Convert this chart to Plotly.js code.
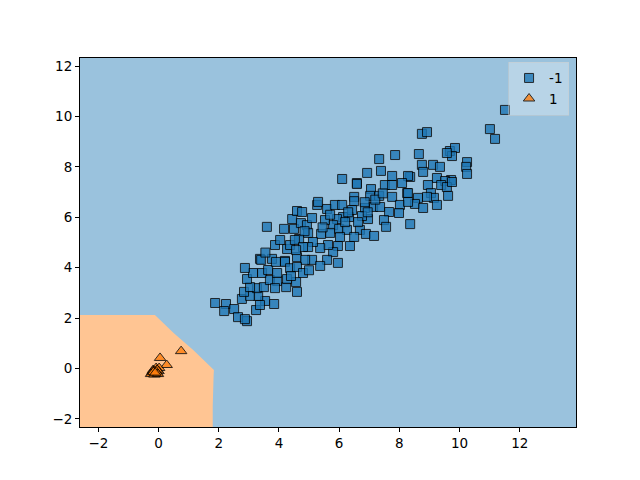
<!DOCTYPE html>
<html>
<head>
<meta charset="utf-8">
<script src="https://cdn.plot.ly/plotly-3.0.1.min.js"></script>
<style>html,body{margin:0;padding:0;background:#fff}#chart{width:640px;height:480px}</style>
</head>
<body>
<div id="chart"></div>
<script>
// Class -1 samples (squares)
const negX = [11.51,11.01,11.18,8.75,8.92,8.65,9.68,9.85,9.75,9.58,10.25,10.22,10.25,8.75,8.79,9.12,9.35,8.36,9.25,9.72,9.52,
  7.86,7.33,6.93,7.39,6.10,6.59,7.76,8.29,
  3.60,4.17,4.50,4.44,4.60,3.87,4.27,3.37,3.77,4.20,4.60,4.67,4.73,
  6.59,5.27,5.30,5.60,5.86,6.10,6.50,6.50,7.06,7.03,7.33,7.52,7.76,8.09,8.26,7.76,8.02,7.66,7.99,7.13,6.86,7.36,6.96,6.76,6.33,6.13,5.93,5.80,5.70,6.00,6.26,6.69,6.89,7.16,7.49,7.56,6.50,6.36,6.03,5.96,5.80,5.63,5.37,5.40,5.13,4.97,4.93,5.10,4.77,4.97,5.60,5.96,5.10,4.87,8.36,
  8.95,9.39,9.58,9.75,9.05,9.15,8.92,8.62,8.52,8.29,8.29,9.62,
  1.88,2.24,2.18,2.51,2.64,2.94,2.87,2.77,3.24,3.54,3.84,3.37,3.31,3.04,2.84,3.27,3.50,3.04,2.94,3.14,3.44,3.64,2.87,3.41,3.70,3.94,3.87,4.24,4.27,4.60,3.90,4.20,4.37,4.60,4.80,3.94,
  5.00,5.37,4.57,4.40,8.79,9.25,4.04,4.37,4.53,4.80,4.57,6.20,6.43,6.63,5.53,
  5.70,6.30,6.85,7.20,5.45,4.85,3.55,6.95,7.45];
const negY = [10.26,9.50,9.11,9.31,9.38,8.51,8.63,8.75,8.43,8.55,8.19,8.00,7.72,8.08,7.80,8.08,8.00,7.60,7.56,7.48,7.44,
  8.47,8.31,7.76,7.84,7.52,7.36,7.64,7.64,
  5.62,5.54,5.54,5.93,6.25,4.90,4.74,4.35,4.35,4.27,4.42,5.14,5.77,
  7.32,6.49,6.61,6.33,6.49,6.49,6.81,6.64,7.12,6.85,6.85,7.28,7.28,7.36,6.96,6.81,6.49,6.21,6.17,6.41,6.37,6.41,5.93,6.05,6.01,6.01,5.93,5.69,5.38,5.54,5.50,5.50,5.34,5.26,5.89,5.62,5.22,4.86,5.22,4.86,4.62,4.90,4.78,5.34,5.02,4.82,5.69,5.97,6.21,5.38,4.31,4.19,4.31,4.31,5.73,
  7.28,7.28,7.20,7.40,6.96,6.77,6.81,6.77,6.53,6.96,6.61,6.85,
  2.60,2.56,2.28,2.36,2.04,1.88,1.96,2.76,2.32,2.68,2.56,2.52,2.88,2.88,3.04,3.19,3.23,3.23,3.55,3.79,3.79,3.91,3.99,4.31,3.51,3.47,3.19,3.23,3.55,3.04,4.23,4.23,3.98,4.03,3.79,3.79,
  3.90,4.07,3.43,3.67,6.37,6.49,5.10,4.90,5.10,4.82,4.70,5.81,6.29,5.81,5.89,
  6.10,6.20,6.60,6.70,5.60,5.45,4.60,6.20,6.95];

// Class 1 samples (triangles)
const posX = [0.05,0.27,0.75,-0.12,-0.22,-0.05,-0.18,-0.08,0.02,-0.15,-0.10,0.00,-0.05,-0.20,-0.08,-0.25,-0.14,-0.02,-0.17,-0.11];
const posY = [0.42,0.14,0.69,-0.15,-0.18,-0.18,-0.06,0.02,0.02,-0.10,-0.20,-0.10,-0.05,-0.12,-0.12,-0.22,-0.24,-0.22,-0.14,-0.17];

// Decision region of class 1 (boundary vertices)
const regionX = [-3.0,-0.12,0.51,1.16,1.84,1.83,1.80,1.80,-3.0];
const regionY = [2.12,2.12,1.40,0.73,-0.06,-0.26,-1.5,-3.0,-3.0];

const xRange = [-2.61, 13.87];
const yRange = [-2.32, 12.32];
const tickVals = [-2,0,2,4,6,8,10,12];

const traces = [
  {x: regionX, y: regionY, type: 'scatter', mode: 'lines', fill: 'toself',
   fillcolor: '#ffc593', line: {width: 0, color: '#ffc593'}, showlegend: false, hoverinfo: 'skip'},
  {x: negX, y: negY, type: 'scatter', mode: 'markers', name: '-1',
   marker: {symbol: 'square', size: 9, color: '#1f77b4', opacity: 0.8, line: {color: '#000', width: 1}}},
  {x: posX, y: posY, type: 'scatter', mode: 'markers', name: '1',
   marker: {symbol: 'triangle-up', size: 10, color: '#ff7f0e', opacity: 0.8, line: {color: '#000', width: 1}}}
];

const axisBase = {showgrid: false, zeroline: false, showline: true, mirror: true, linecolor: '#000', linewidth: 1,
  ticks: 'outside', ticklen: 4, tickwidth: 1, tickcolor: '#000', tickfont: {family: 'DejaVu Sans', size: 13.5, color: '#000'}};

const layout = {
  width: 640, height: 480,
  margin: {l: 80, r: 64, t: 58, b: 53},
  paper_bgcolor: '#fff', plot_bgcolor: '#9ac2dd',
  xaxis: Object.assign({}, axisBase, {range: xRange, tickvals: tickVals}),
  yaxis: Object.assign({}, axisBase, {range: yRange, tickvals: tickVals}),
  showlegend: true,
  legend: {x: 0.986, y: 0.99, xanchor: 'right', yanchor: 'top', bgcolor: 'rgba(255,255,255,0.3)',
    bordercolor: 'rgba(204,204,204,0.5)', borderwidth: 1, font: {family: 'DejaVu Sans', size: 13.5, color: '#000'},
    itemwidth: 30, tracegroupgap: 0}
};

Plotly.newPlot('chart', traces, layout, {staticPlot: true, displayModeBar: false});
</script>
</body>
</html>
